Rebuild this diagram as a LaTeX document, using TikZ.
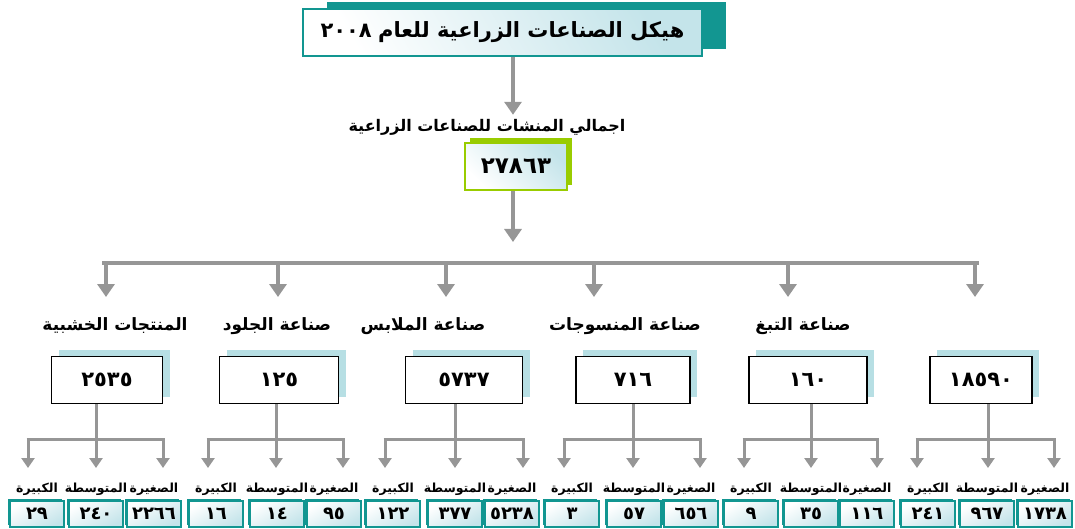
\documentclass[tikz,border=0pt]{standalone}
\usepackage{fontspec}
\newfontfamily\arabicfont[Script=Arabic]{DejaVu Sans}
\TeXXeTstate=1
\usetikzlibrary{arrows.meta,shadows}
\definecolor{tealc}{RGB}{18,150,145}
\definecolor{arrgray}{RGB}{150,150,150}
\definecolor{greenc}{RGB}{153,204,0}
\definecolor{lblue}{RGB}{183,223,228}
\definecolor{gradblue}{RGB}{196,228,234}
\newcommand\artxt[1]{{\arabicfont\bfseries\beginR #1\endR}}
\newcommand\arnum[1]{{\arabicfont\bfseries #1}}
\tikzset{
  conn/.style={draw=arrgray, line width=3.5pt},
  arrmain/.style={conn, -{Triangle[length=13pt,width=17pt]}},
  arrsmall/.style={draw=arrgray, line width=3pt, -{Triangle[length=10pt,width=13pt]}},
  titlebox/.style={draw=tealc, line width=1.8pt, minimum width=399pt, minimum height=47pt,
    top color=gradblue, bottom color=white, shading angle=-60,
    general shadow={fill=tealc, shadow xshift=24pt, shadow yshift=7pt}, font=\fontsize{21}{24}\selectfont},
  totalbox/.style={draw=greenc, line width=2pt, minimum width=102pt, minimum height=47pt,
    top color=gradblue, bottom color=white, shading angle=-45,
    general shadow={fill=greenc, shadow xshift=5pt, shadow yshift=5pt}, font=\fontsize{23}{26}\selectfont},
  catbox/.style={draw=black, line width=1.5pt, fill=white, minimum height=47pt,
    general shadow={fill=lblue, shadow xshift=7pt, shadow yshift=7pt}, font=\fontsize{21}{24}\selectfont},
  smallbox/.style={draw=tealc, line width=1.3pt, minimum width=54pt, minimum height=26pt, inner sep=0pt,
    top color=white, bottom color=gradblue, shading angle=30,
    general shadow={fill=tealc, shadow xshift=-2pt, shadow yshift=2.5pt}, font=\fontsize{18}{20}\selectfont},
  catlabel/.style={font=\fontsize{17}{20}\selectfont, inner sep=0pt},
  sublabel/.style={font=\fontsize{12.5}{15}\selectfont, inner sep=0pt},
}
\begin{document}
\begin{tikzpicture}[x=1pt,y=-1pt]
\useasboundingbox (0,0) rectangle (1075,529);
% title
\node[titlebox] (title) at (502.5,32.5) {\arnum{٢٠٠٨}\ \artxt{هيكل الصناعات الزراعية للعام}};
\node[font=\fontsize{16}{19}\selectfont, inner sep=0pt] (sub) at (487,127) {\artxt{اجمالي المنشات للصناعات الزراعية}};
\node[totalbox] (total) at (516,166.5) {\arnum{٢٧٨٦٣}};
\coordinate (hubx) at (513,0);
\coordinate (hub) at (513,242);
\draw[arrmain] (title.south -| hubx) -- ([yshift=4pt]sub.north -| hubx);
\draw[arrmain] (total.south -| hubx) -- (hub);
% bus
\coordinate (busL) at (104,263);
\coordinate (busR) at (977,263);
\draw[conn] ([xshift=-1.75pt]busL) -- ([xshift=1.75pt]busR);
\foreach \i/\x in {1/106,2/278,3/446,4/594,5/788,6/975}{
  \coordinate (bus\i) at (\x,263);
  \coordinate (cat\i) at (\x,297);
  \draw[arrmain] (bus\i) -- (cat\i);
}
% category labels
\node[catlabel] (lab1) at (115,326) {\artxt{المنتجات الخشبية}};
\node[catlabel] (lab2) at (277,326) {\artxt{صناعة الجلود}};
\node[catlabel] (lab3) at (423,326) {\artxt{صناعة الملابس}};
\node[catlabel] (lab4) at (625,326) {\artxt{صناعة المنسوجات}};
\node[catlabel] (lab5) at (803,326) {\artxt{صناعة التبغ}};
% groups
\foreach \g/\bx/\bw/\bv/\jx/\ak/\am/\as/\kx/\mx/\sx/\kv/\mv/\sv in {
  1/107/111/٢٥٣٥/96/28/96/163/37/96/154/٢٩/٢٤٠/٢٢٦٦,
  2/279/119/١٢٥/276/208/276/343/216/277/334/١٦/١٤/٩٥,
  3/464/117/٥٧٣٧/455/385/455/523/393/455/512/١٢٢/٣٧٧/٥٢٣٨,
  4/633/114/٧١٦/633/564/633/700/572/634/691/٣/٥٧/٦٥٦,
  5/808/118/١٦٠/811/744/811/877/751/811/867/٩/٣٥/١١٦,
  6/981/102/١٨٥٩٠/988/917/988/1054/928/987/1045/٢٤١/٩٦٧/١٧٣٨}{
  \node[catbox, minimum width=\bw pt] (box\g) at (\bx,380) {\arnum{\bv}};
  \coordinate (j\g) at (\jx,439);
  \coordinate (jk\g) at (\ak,439);
  \coordinate (js\g) at (\as,439);
  \coordinate (tk\g) at (\ak,468);
  \coordinate (tm\g) at (\am,468);
  \coordinate (ts\g) at (\as,468);
  \draw[draw=arrgray, line width=3pt] (box\g.south -| j\g) -- (j\g);
  \draw[draw=arrgray, line width=3pt] ([xshift=-1.5pt]jk\g) -- ([xshift=1.5pt]js\g);
  \draw[arrsmall] (jk\g) -- (tk\g);
  \draw[arrsmall] (j\g) -- (tm\g);
  \draw[arrsmall] (js\g) -- (ts\g);
  \node[sublabel] (lk\g) at (\kx,489) {\artxt{الكبيرة}};
  \node[sublabel] (lm\g) at (\mx,489) {\artxt{المتوسطة}};
  \node[sublabel] (ls\g) at (\sx,489) {\artxt{الصغيرة}};
  \node[smallbox] (nk\g) at (\kx,514) {\arnum{\kv}};
  \node[smallbox] (nm\g) at (\mx,514) {\arnum{\mv}};
  \node[smallbox] (ns\g) at (\sx,514) {\arnum{\sv}};
}
\end{tikzpicture}
\end{document}
